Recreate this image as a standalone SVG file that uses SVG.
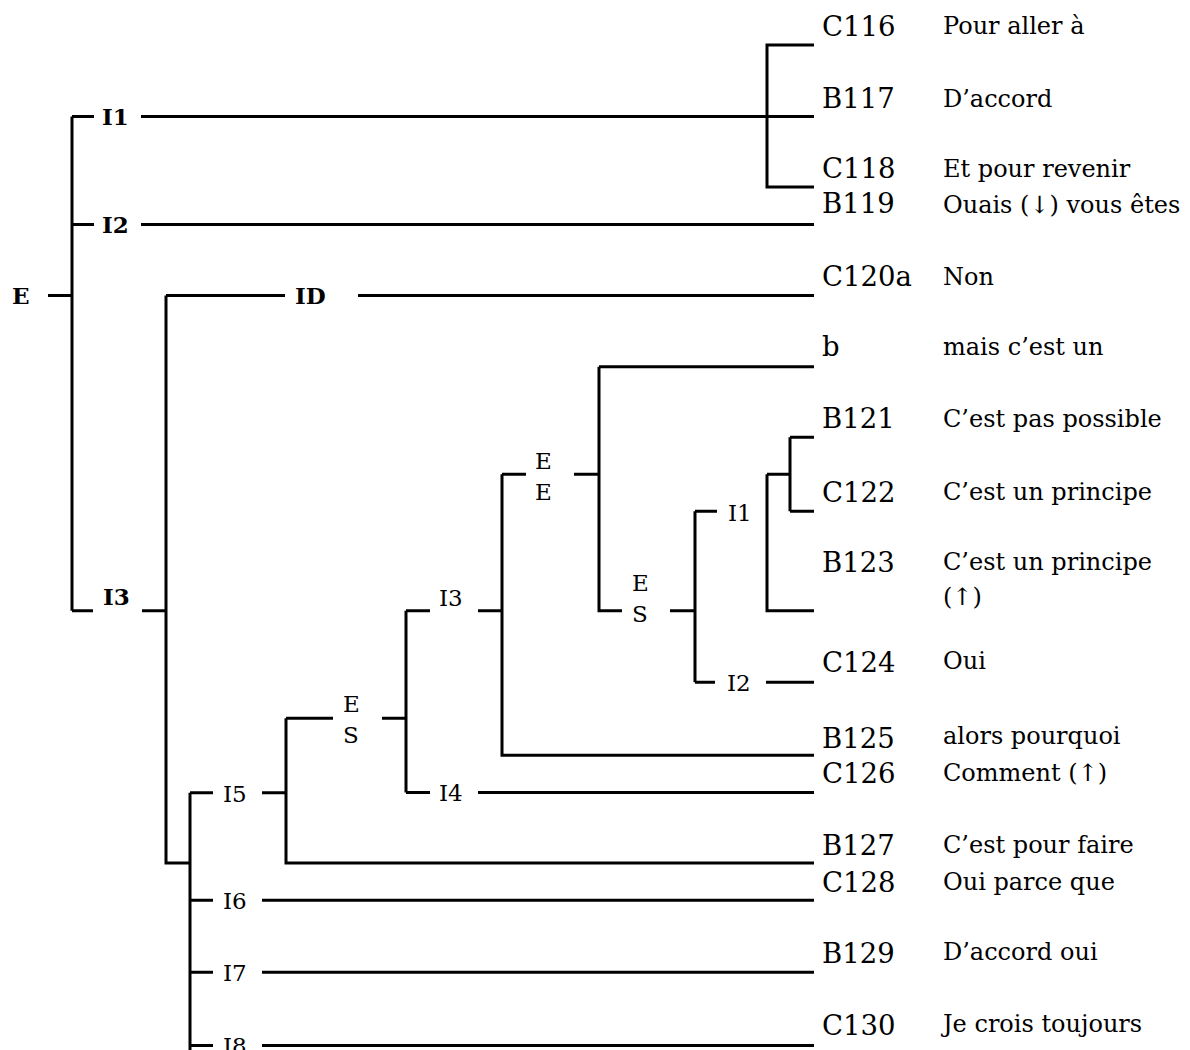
<svg xmlns="http://www.w3.org/2000/svg" width="1190" height="1050" viewBox="0 0 1190 1050">
<style>
.ln{stroke:#000;stroke-width:3;fill:none;stroke-linecap:butt}
text{font-family:"DejaVu Serif","Liberation Serif",serif;fill:#000}
.b{font-weight:bold;font-size:23px}
.n{font-size:23px}
.c{font-size:27.5px}
.t{font-size:24px}
</style>
<rect width="1190" height="1050" fill="#fff"/>
<g id="connectors" class="ln">
<path d="M48 295.5H72M72 116.5V610.7M72 116.5H94M141 116.5H814M72 224.5H94M141 224.5H814M72 610.7H93M142 610.7H166"/>
<path d="M814 45H767V187H814"/>
<path d="M166 295.5H285M358 295.5H814M166 295.5V863H190M190 792.7V1050"/>
<path d="M190 792.7H213M262 792.7H286M286 718.3V863H814"/>
<path d="M286 718.3H333M382 718.3H406M406 610.7V792.5"/>
<path d="M406 610.7H430M478 610.7H502M502 474.3V755.3H814"/>
<path d="M406 792.5H430M478 792.5H814"/>
<path d="M502 474.3H526M574 474.3H599M599 366.7V610.7H622M599 366.7H814"/>
<path d="M670 610.7H695M695 511.3V682.3M695 511.3H717M695 682.3H715M766 682.3H814"/>
<path d="M767 474.3V610.7H814M767 474.3H790M790 437.3V511.3M790 437.3H814M790 511.3H814"/>
<path d="M190 900.3H213M262 900.3H814M190 972.3H213M262 972.3H814M190 1045.5H213M262 1045.5H814"/>
</g>
<g id="n-E"><text class="b" x="12" y="304">E</text></g>
<g id="n-I1"><text class="b" x="102" y="125">I1</text></g>
<g id="n-I2"><text class="b" x="102" y="233">I2</text></g>
<g id="n-ID"><text class="b" x="295" y="304">ID</text></g>
<g id="n-I3"><text class="b" x="103" y="605">I3</text></g>
<g id="n-EE"><text class="n" x="535" y="469">E</text><text class="n" x="535" y="500">E</text></g>
<g id="n-I3b"><text class="n" x="439" y="606">I3</text></g>
<g id="n-ES1"><text class="n" x="632" y="590.7">E</text><text class="n" x="632" y="621.7">S</text></g>
<g id="n-I1b"><text class="n" x="728" y="521">I1</text></g>
<g id="n-I2b"><text class="n" x="727" y="690.7">I2</text></g>
<g id="n-ES2"><text class="n" x="343" y="712">E</text><text class="n" x="343" y="743">S</text></g>
<g id="n-I5"><text class="n" x="223" y="801.7">I5</text></g>
<g id="n-I4"><text class="n" x="439" y="800.7">I4</text></g>
<g id="n-I6"><text class="n" x="223" y="909">I6</text></g>
<g id="n-I7"><text class="n" x="223" y="981">I7</text></g>
<g id="n-I8"><text class="n" x="223" y="1054">I8</text></g>
<g id="n-C116"><text class="c" x="822" y="36">C116</text><text class="t" x="943" y="34">Pour aller à</text></g>
<g id="n-B117"><text class="c" x="822" y="108">B117</text><text class="t" x="943" y="107">D’accord</text></g>
<g id="n-C118"><text class="c" x="822" y="178">C118</text><text class="t" x="943" y="177">Et pour revenir</text></g>
<g id="n-B119"><text class="c" x="822" y="213">B119</text><text class="t" x="943" y="213">Ouais (↓) vous êtes</text></g>
<g id="n-C120a"><text class="c" x="822" y="286">C120a</text><text class="t" x="943" y="285">Non</text></g>
<g id="n-b"><text class="c" x="822" y="356">b</text><text class="t" x="943" y="355">mais c’est un</text></g>
<g id="n-B121"><text class="c" x="822" y="428">B121</text><text class="t" x="943" y="427">C’est pas possible</text></g>
<g id="n-C122"><text class="c" x="822" y="502">C122</text><text class="t" x="943" y="500">C’est un principe</text></g>
<g id="n-B123"><text class="c" x="822" y="572">B123</text><text class="t" x="943" y="570">C’est un principe</text><text class="t" x="943" y="605">(↑)</text></g>
<g id="n-C124"><text class="c" x="822" y="672">C124</text><text class="t" x="943" y="669">Oui</text></g>
<g id="n-B125"><text class="c" x="822" y="748">B125</text><text class="t" x="943" y="744">alors pourquoi</text></g>
<g id="n-C126"><text class="c" x="822" y="783">C126</text><text class="t" x="943" y="781">Comment (↑)</text></g>
<g id="n-B127"><text class="c" x="822" y="855">B127</text><text class="t" x="943" y="853">C’est pour faire</text></g>
<g id="n-C128"><text class="c" x="822" y="892">C128</text><text class="t" x="943" y="890">Oui parce que</text></g>
<g id="n-B129"><text class="c" x="822" y="963">B129</text><text class="t" x="943" y="960">D’accord oui</text></g>
<g id="n-C130"><text class="c" x="822" y="1035">C130</text><text class="t" x="943" y="1032">Je crois toujours</text></g>
</svg>
